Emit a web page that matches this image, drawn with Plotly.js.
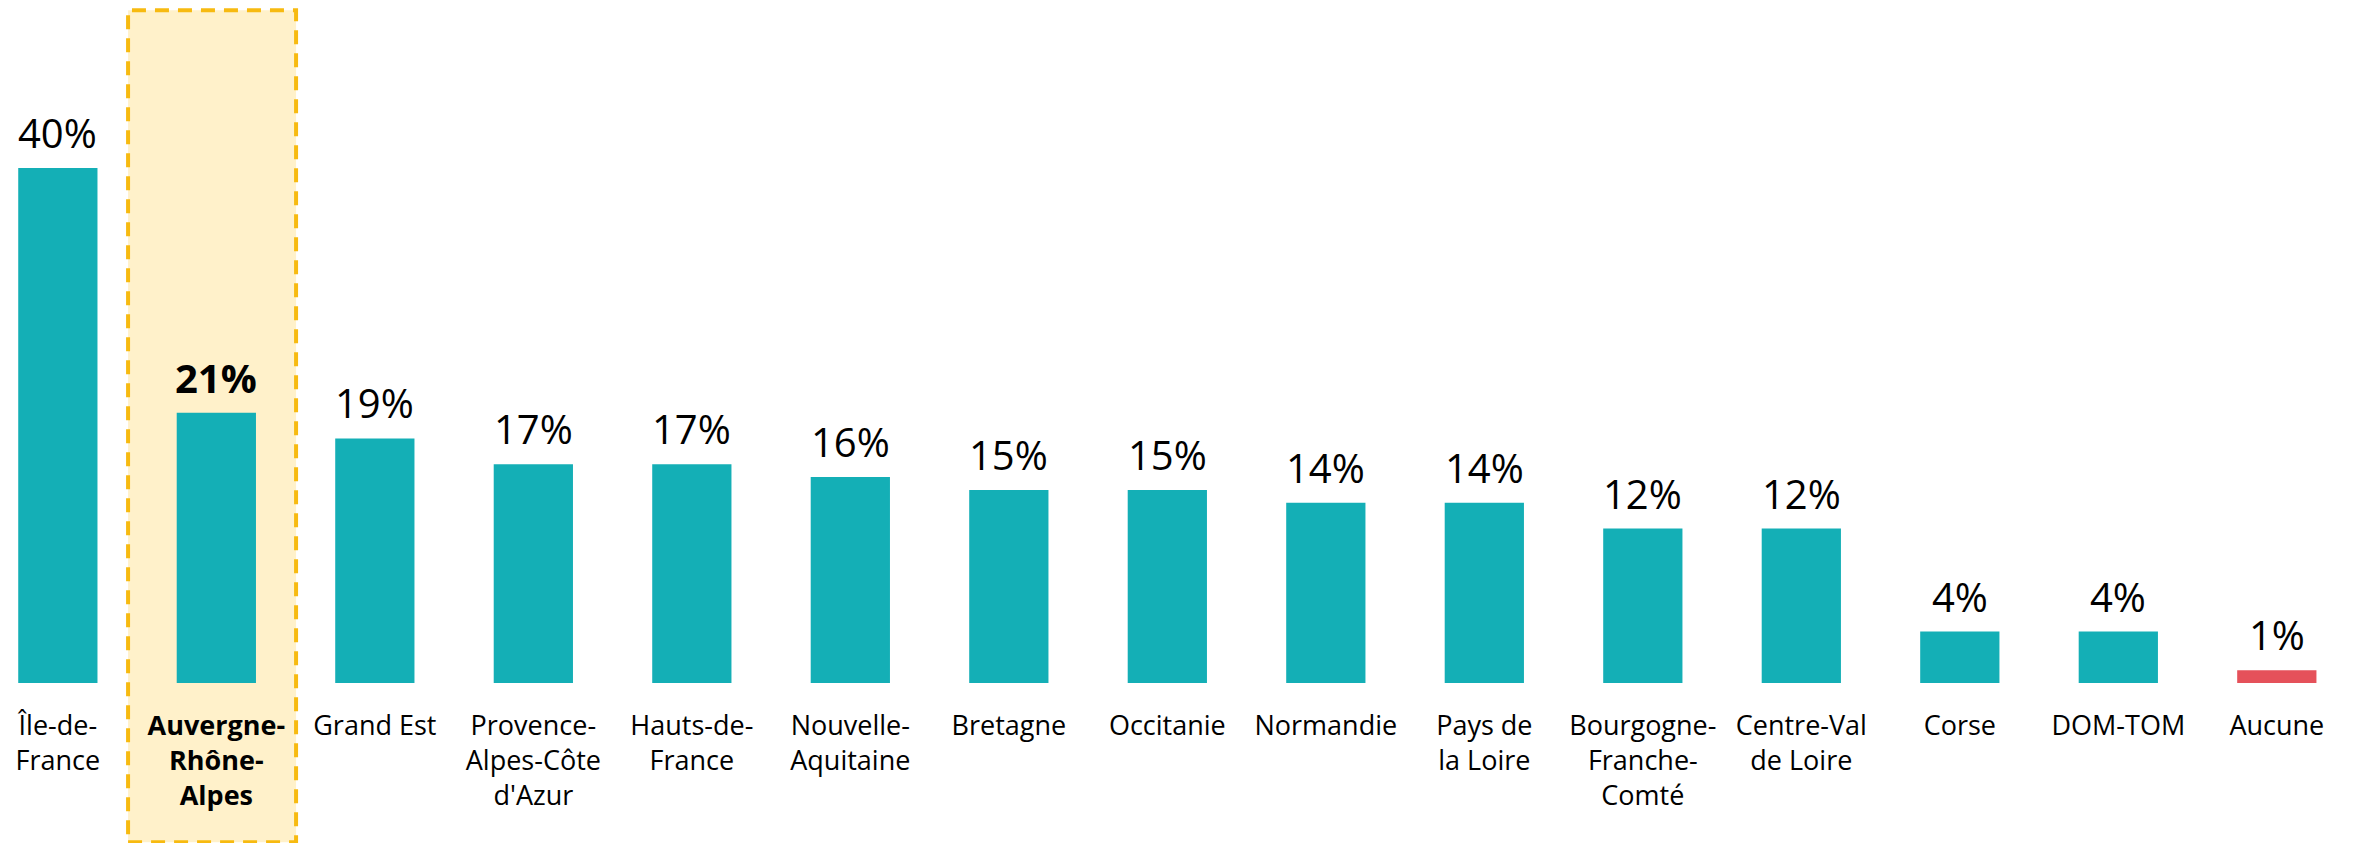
<!DOCTYPE html>
<html><head><meta charset="utf-8">
<script src="https://cdn.plot.ly/plotly-3.0.1.min.js"></script>
<style>html,body{margin:0;padding:0;background:#fff;}#chart{width:2354px;height:843px;}</style>
</head><body><div id="chart"></div>
<script>
const categories = ["Île-de-France","Auvergne-Rhône-Alpes","Grand Est","Provence-Alpes-Côte d'Azur","Hauts-de-France","Nouvelle-Aquitaine","Bretagne","Occitanie","Normandie","Pays de la Loire","Bourgogne-Franche-Comté","Centre-Val de Loire","Corse","DOM-TOM","Aucune"];
const tickLabels = ["Île-de-<br>France","<b>Auvergne-</b><br><b>Rhône-</b><br><b>Alpes</b>","Grand Est","Provence-<br>Alpes-Côte<br>d'Azur","Hauts-de-<br>France","Nouvelle-<br>Aquitaine","Bretagne","Occitanie","Normandie","Pays de<br>la Loire","Bourgogne-<br>Franche-<br>Comté","Centre-Val<br>de Loire","Corse","DOM-TOM","Aucune"];
const values = [40,21,19,17,17,16,15,15,14,14,12,12,4,4,1];
const highlightIndex = 1;
const noneIndex = 14;

const teal = "#14AFB6", red = "#E5515A";
const colors = values.map((v,i)=> i===noneIndex ? red : teal);
const xs = values.map((v,i)=>i);

const annotations = values.map((v,i)=>({
  x: i, y: v, xref:'x', yref:'y',
  text: i===highlightIndex ? `<b>${v}%</b>` : `${v}%`,
  showarrow:false, yanchor:'bottom', yshift: 6,
  font:{family:"Open Sans", size:40, color:"#000"}
}));

const data = [{
  type:'bar', x: xs, y: values,
  marker:{color: colors},
  width: 0.5,
  hoverinfo:'skip'
}];

const layout = {
  width:2354, height:843,
  margin:{l:0,r:0,t:0,b:160},
  paper_bgcolor:'#fff', plot_bgcolor:'rgba(0,0,0,0)',
  showlegend:false,
  xaxis:{
    range:[-0.365,14.487],
    tickmode:'array', tickvals: xs, ticktext: tickLabels,
    tickfont:{family:"Open Sans", size:27, color:"#000"},
    ticklabelstandoff: 24,
    showgrid:false, zeroline:false, showline:false, ticks:'',
    fixedrange:true
  },
  yaxis:{range:[0,53.05], visible:false, fixedrange:true},
  annotations: annotations,
  shapes:[{
    type:'rect', layer:'below',
    xref:'x', yref:'paper',
    x0: highlightIndex-0.557, x1: highlightIndex+0.503,
    y0: -0.233, y1: 0.985,
    fillcolor:'#FFF1CA',
    line:{color:'#F7BA10', width:4, dash:'14px,9px'}
  }]
};

Plotly.newPlot('chart', data, layout, {displayModeBar:false, staticPlot:true});
</script>
</body></html>
